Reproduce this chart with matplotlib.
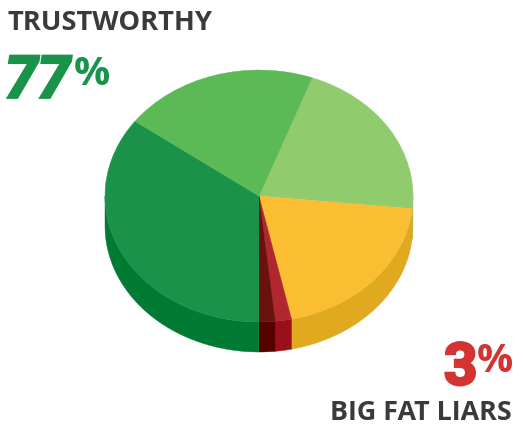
#!/usr/bin/env python3
"""Extruded pie of how trustworthy the sources are, with two callouts."""

import matplotlib
matplotlib.use("Agg")
import matplotlib.pyplot as plt
import matplotlib.patheffects as pe
import numpy as np

W, H = 523, 433

# Slices run clockwise, starting from the light green one
shares = [21.0, 20.0, 1.7, 1.7, 35.1, 20.5]
top_colors = ["#90CC6E", "#FBBE33", "#B0272F", "#6A120E", "#1A924A", "#5BBA55"]
side_colors = ["#90CC6E", "#E0A91F", "#9B0F1A", "#560002", "#017A33", "#5BBA55"]
trust_label = "TRUSTWORTHY"
trust_value = "77"
liar_label = "BIG FAT LIARS"
liar_value = "3"

START_DEG = 69.8    # where the first slice begins, measured ccw from +x
CX, CY = 259, 196   # pie centre, pixels from top left
RX, RY = 154, 126
DEPTH = 30
squash = RY / RX

fig = plt.figure(figsize=(W / 100, H / 100), dpi=100, facecolor="white")
ax = fig.add_axes([0, 0, 1, 1])


def to_y(py):
    # pixel row -> data y, the y axis is stretched so the circle draws as an ellipse
    return (H - py) / squash


# ── side wall, only the part facing the viewer ───────────────────────
edges = START_DEG - np.cumsum([0] + shares) * 3.6
for i, col in enumerate(side_colors):
    a0, a1 = edges[i], edges[i + 1]
    # keep the lower half of the ellipse
    lo = max(a1, -180 - 360 * (a1 < -360))
    hi = min(a0, 0)
    if hi <= lo:
        continue
    t = np.radians(np.linspace(hi, lo, 80))
    x = CX + RX * np.cos(t)
    y = to_y(CY) + RX * np.sin(t)
    xs = np.r_[x, x[::-1]]
    ys = np.r_[y, y[::-1] - DEPTH / squash]
    ax.fill(xs, ys, color=col, lw=0.3, zorder=1)

# ── top face ─────────────────────────────────────────────────────────
ax.pie(shares, colors=top_colors, startangle=START_DEG, counterclock=False,
       center=(CX, to_y(CY)), radius=RX, frame=True,
       wedgeprops={"linewidth": 0.3, "zorder": 2})
for w, col in zip(ax.patches[-len(shares):], top_colors):
    w.set_edgecolor(col)

ax.set_aspect("auto")
ax.set_xlim(0, W)
ax.set_ylim(0, H / squash)
ax.axis("off")


def put(px, py, s, **kw):
    fig.text(px / W, 1 - py / H, s, **kw)


def thick(col, lw=2.0):
    return [pe.withStroke(linewidth=lw, foreground=col, joinstyle="miter")]


dark = "#3A3A3A"
green = "#17934A"
red = "#D33331"
bold = {"family": "Open Sans", "weight": "bold"}
big = {"family": "Roboto", "weight": "bold"}

put(8, 29.5, trust_label, color=dark, fontsize=19.6, va="baseline", ha="left", **bold)
put(512, 420, liar_label, color=dark, fontsize=19.4, va="baseline", ha="right", **bold)

put(5, 97.5, trust_value, color=green, fontsize=42, style="italic", va="baseline",
    ha="left", path_effects=thick(green), **big)
put(74, 85, "%", color=green, fontsize=29, va="baseline", ha="left", **bold)

put(444, 384.5, liar_value, color=red, fontsize=42, va="baseline", ha="left",
    path_effects=thick(red), **big)
put(477, 372, "%", color=red, fontsize=29, va="baseline", ha="left", **bold)

fig.savefig("out.png", dpi=100, facecolor="white")
plt.close(fig)
